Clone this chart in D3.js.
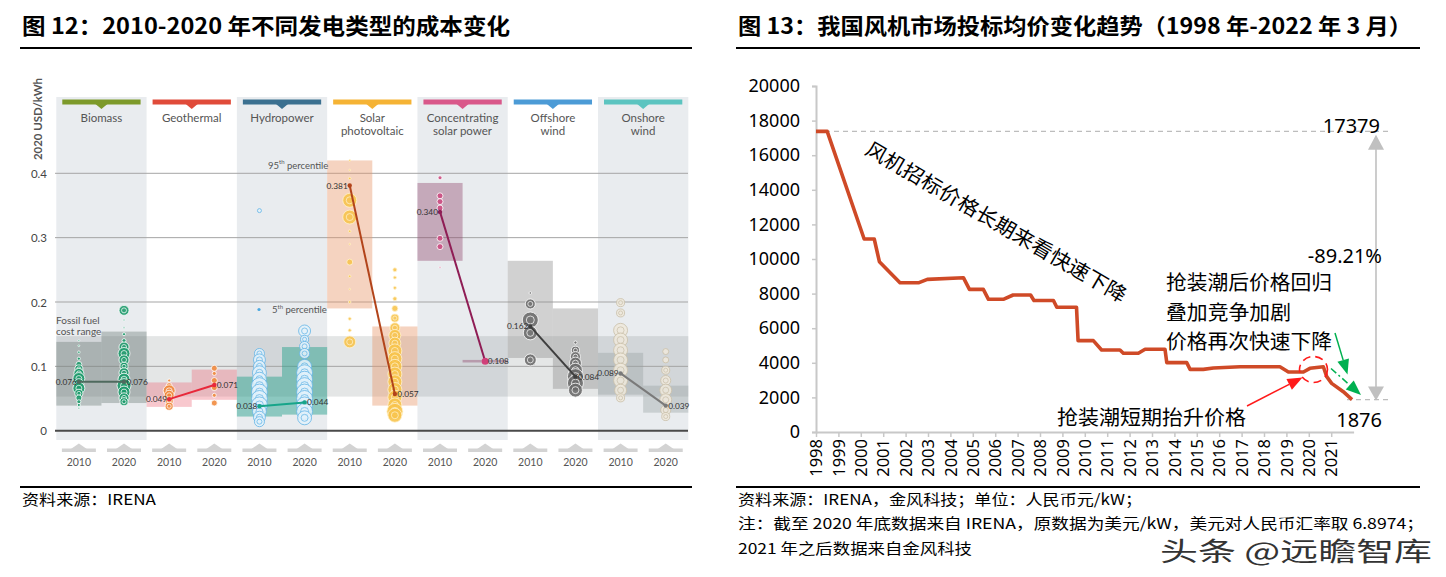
<!DOCTYPE html>
<html><head><meta charset="utf-8">
<script src="https://cdn.jsdelivr.net/npm/d3@7"></script>
<style>
html,body{margin:0;padding:0;background:#fff;}
svg{display:block;}
</style></head><body>
<svg id="c" width="1446" height="577"></svg>
<script>
// ================= Figure 12 data =================
const techs = ["Biomass","Geothermal","Hydropower","Solar photovoltaic","Concentrating solar power","Offshore wind","Onshore wind"];
const techLabels = [["Biomass"],["Geothermal"],["Hydropower"],["Solar","photovoltaic"],["Concentrating","solar power"],["Offshore","wind"],["Onshore","wind"]];
const years12 = ["2010","2020"];
const lcoe2010 = [0.076,0.049,0.038,0.381,0.340,0.162,0.089];
const lcoe2020 = [0.076,0.071,0.044,0.057,0.108,0.084,0.039];
const p5_2010  = [0.039,0.037,0.022,0.190,0.264,0.113,0.056];
const p95_2010 = [0.138,0.075,0.084,0.420,0.385,0.264,0.121];
const p5_2020  = [0.043,0.048,0.025,0.039,0.106,0.065,0.028];
const p95_2020 = [0.154,0.095,0.130,0.162,0.110,0.190,0.070];
const fossilRange = [0.053,0.147];
const yTicks12 = [0,0.1,0.2,0.3,0.4];
// project bubbles: [LCOE, capacity]
const dots2010 = [
  [[0.140,1],[0.132,1],[0.122,2],[0.112,3],[0.103,11],[0.096,20],[0.089,31],[0.081,44],[0.073,31],[0.066,44],[0.058,20],[0.051,11],[0.045,5],[0.040,3],[0.035,1]],
  [[0.078,3],[0.070,11],[0.062,44],[0.055,31],[0.046,20],[0.038,20]],
  [[0.342,5],[0.120,31],[0.110,44],[0.100,44],[0.090,60],[0.080,60],[0.070,79],[0.060,79],[0.050,79],[0.040,79],[0.030,60],[0.021,44],[0.014,31]],
  [[0.420,1],[0.405,1],[0.392,2],[0.358,60],[0.332,60],[0.310,2],[0.290,1],[0.262,11],[0.240,2],[0.220,1],[0.200,2],[0.174,3],[0.156,3],[0.138,44]],
  [[0.393,5],[0.365,11],[0.356,11],[0.346,11],[0.299,11],[0.286,11],[0.254,1]],
  [[0.214,2],[0.197,31],[0.172,79],[0.152,60],[0.110,44]],
  [[0.199,20],[0.183,20],[0.156,60],[0.141,60],[0.125,60],[0.110,60],[0.094,60],[0.078,60],[0.063,44],[0.051,20]]
];
const dots2020 = [
  [[0.187,31],[0.172,1],[0.160,1],[0.150,3],[0.140,5],[0.130,31],[0.120,44],[0.110,31],[0.100,20],[0.090,31],[0.080,44],[0.070,60],[0.060,44],[0.051,31],[0.045,20]],
  [[0.097,11],[0.089,5],[0.078,11],[0.067,11],[0.055,5],[0.043,11]],
  [[0.155,44],[0.142,20],[0.131,31],[0.120,31],[0.100,60],[0.090,79],[0.080,79],[0.070,79],[0.060,79],[0.050,79],[0.040,79],[0.030,79],[0.020,60]],
  [[0.250,5],[0.238,3],[0.222,3],[0.205,5],[0.190,11],[0.175,20],[0.160,31],[0.148,44],[0.136,44],[0.124,60],[0.112,60],[0.100,60],[0.088,60],[0.076,60],[0.064,60],[0.052,60],[0.040,60],[0.030,79],[0.024,60]],
  [[0.108,11]],
  [[0.137,3],[0.125,20],[0.115,31],[0.105,44],[0.094,60],[0.084,79],[0.074,79],[0.063,60]],
  [[0.123,11],[0.110,11],[0.094,20],[0.078,31],[0.063,44],[0.048,44],[0.032,31],[0.022,20]]
];

// ================= Figure 13 data =================
const priceYears = [1998.0,1998.5,2000.15,2000.6,2000.83,2001.75,2002.6,2002.97,2004.58,2004.85,2005.47,2005.7,2006.36,2006.8,2007.58,2007.73,2008.6,2008.75,2009.63,2009.7,2010.38,2010.75,2011.57,2011.72,2012.39,2012.69,2013.58,2013.66,2014.55,2014.7,2015.29,2015.74,2016.93,2018.71,2019.09,2019.76,2020.05,2020.65,2020.8,2021.02,2021.54,2021.93];
const priceValues = [17379,17379,11156,11156,9845,8630,8630,8824,8920,8247,8247,7670,7670,7920,7920,7600,7600,7210,7210,5280,5280,4740,4740,4550,4550,4780,4780,4010,4010,3620,3620,3700,3770,3770,3470,3470,3680,3770,3200,2810,2330,1876];
const yearTicks13 = d3.range(1998, 2022);
const yTicks13 = [0,2000,4000,6000,8000,10000,12000,14000,16000,18000,20000];
const priceStart = 17379, priceEnd = 1876, priceChange = "-89.21%";

// ================= styles =================
const headerColors = ["#7d9a2a","#e04b3a","#3b7090","#f5b335","#d9588a","#4c9bd6","#5cc4c0"];
const boxColors = ["rgba(105,120,115,0.38)","rgba(236,110,125,0.38)","rgba(40,160,140,0.48)","rgba(232,150,105,0.42)","rgba(140,60,100,0.38)","rgba(145,145,145,0.42)","rgba(150,160,160,0.38)"];
const dotFill = ["#1a9a6a","#f0883a","#e2f1fb","#f7c34a","#cc4a80","#6a6a6a","#eee8dc"];
const dotStroke = ["#ffffff","#ffffff","#62b4e6","#fff3d0","#ffffff","#ffffff","#c9bfa8"];
const lineColors = ["#4f6a5e","#e8283a","#17a58a","#b2441a","#8f1d55","#3f3f3f","#7a7a7a"];

const svg = d3.select("#c");
const CJK = "'Noto Sans CJK SC','Noto Sans',sans-serif";
const LAT = "Lato,'Open Sans',sans-serif";

// ---------- titles & footers ----------
function title(x, txt, len){
  svg.append("text").attr("x",x).attr("y",34).attr("font-family",CJK).attr("font-weight",700)
    .attr("font-size",22).attr("fill","#000").attr("textLength",len).attr("lengthAdjust","spacingAndGlyphs").text(txt);
}
title(22,"图 12：2010-2020 年不同发电类型的成本变化",488);
title(738,"图 13：我国风机市场投标均价变化趋势（1998 年-2022 年 3 月）",674);
svg.append("line").attr("x1",20).attr("x2",692).attr("y1",48).attr("y2",48).attr("stroke","#000").attr("stroke-width",2);
svg.append("line").attr("x1",736).attr("x2",1420).attr("y1",48).attr("y2",48).attr("stroke","#000").attr("stroke-width",2);
svg.append("line").attr("x1",20).attr("x2",692).attr("y1",487).attr("y2",487).attr("stroke","#000").attr("stroke-width",2);
svg.append("line").attr("x1",736).attr("x2",1420).attr("y1",487).attr("y2",487).attr("stroke","#000").attr("stroke-width",2);
function foot(x,y,txt,len){
  svg.append("text").attr("x",x).attr("y",y).attr("font-family",CJK).attr("font-size",15).attr("fill","#000")
    .attr("dominant-baseline","central").attr("textLength",len).attr("lengthAdjust","spacingAndGlyphs").text(txt);
}
foot(22,498,"资料来源：IRENA",134);
foot(738,498,"资料来源：IRENA，金风科技；单位：人民币元/kW；",404);
foot(738,522,"注：截至 2020 年底数据来自 IRENA，原数据为美元/kW，美元对人民币汇率取 6.8974；",686);
foot(738,547,"2021 年之后数据来自金风科技",234);

// ================= Figure 12 chart =================
const g1 = svg.append("g");
const xB = d3.scaleBand().domain(techs).range([56.3,688.3]);
const bw = xB.bandwidth();
const yL = d3.scaleLinear().domain([0,0.4]).range([430.7,173.3]);
const r = d3.scaleSqrt().domain([0,100]).range([0,9]);
const subX = (i,yr) => xB(techs[i]) + (yr+0.5)*bw/2;

techs.forEach((t,i)=>{
  if(i%2===0) g1.append("rect").attr("x",xB(t)).attr("y",97).attr("width",bw).attr("height",343).attr("fill","#e9ecef");
});
g1.append("rect").attr("x",56.3).attr("width",632).attr("y",yL(fossilRange[1])).attr("height",yL(fossilRange[0])-yL(fossilRange[1]))
  .attr("fill","rgba(120,130,130,0.2)");
yTicks12.forEach(v=>{
  g1.append("line").attr("x1",55).attr("x2",688).attr("y1",yL(v)).attr("y2",yL(v))
    .attr("stroke",v===0?"#4a4a4a":"#a5a5a5").attr("stroke-width",v===0?2:1);
  g1.append("text").attr("x",47).attr("y",yL(v)).attr("text-anchor","end").attr("dominant-baseline","central")
    .attr("font-family",LAT).attr("font-size",11.5).attr("fill","#444").text(v===0?"0":d3.format(".1f")(v));
});
g1.append("text").attr("transform","translate(41.5,119) rotate(-90)").attr("text-anchor","middle")
  .attr("font-family",LAT).attr("font-weight",700).attr("font-size",11).attr("fill","#555")
  .attr("textLength",82).attr("lengthAdjust","spacingAndGlyphs").text("2020 USD/kWh");
techs.forEach((t,i)=>{
  const x0 = xB(t), cx = x0+bw/2;
  g1.append("rect").attr("x",x0+6).attr("y",99.5).attr("width",bw-12).attr("height",5).attr("fill",headerColors[i]);
  g1.append("path").attr("d",`M${cx-6},104 L${cx+6},104 L${cx},109 Z`).attr("fill",headerColors[i]);
  techLabels[i].forEach((ln,k)=>{
    g1.append("text").attr("x",cx).attr("y",117+k*13.5).attr("text-anchor","middle").attr("dominant-baseline","central")
      .attr("font-family",LAT).attr("font-size",11.5).attr("fill","#555").text(ln);
  });
});
g1.append("text").attr("x",56).attr("y",320).attr("dominant-baseline","central").attr("font-family",LAT).attr("font-size",10).attr("fill","#555").text("Fossil fuel");
g1.append("text").attr("x",56).attr("y",331).attr("dominant-baseline","central").attr("font-family",LAT).attr("font-size",10).attr("fill","#555").text("cost range");
techs.forEach((t,i)=>{
  [[p5_2010,p95_2010],[p5_2020,p95_2020]].forEach((pp,yr)=>{
    const lo=pp[0][i], hi=pp[1][i];
    const x0 = xB(t)+yr*bw/2;
    g1.append("rect").attr("x",x0).attr("width",bw/2).attr("y",yL(hi)).attr("height",Math.max(2,yL(lo)-yL(hi))).attr("fill",boxColors[i]);
  });
});
g1.append("text").attr("x",268).attr("y",165).attr("dominant-baseline","central").attr("font-family",LAT).attr("font-size",9.5).attr("fill","#555")
  .html('95<tspan baseline-shift="super" font-size="6">th</tspan> percentile');
g1.append("text").attr("x",272).attr("y",309.5).attr("dominant-baseline","central").attr("font-family",LAT).attr("font-size",9.5).attr("fill","#555")
  .html('5<tspan baseline-shift="super" font-size="6">th</tspan> percentile');
g1.append("circle").attr("cx",259).attr("cy",309.5).attr("r",1.6).attr("fill","#4aa8e0");
techs.forEach((t,i)=>{
  [dots2010,dots2020].forEach((ds,yr)=>{
    const cx = subX(i,yr);
    ds[i].forEach(([v,c])=>{
      const rr = r(c);
      g1.append("circle").attr("cx",cx).attr("cy",yL(v)).attr("r",rr).attr("fill",dotFill[i]).attr("fill-opacity",0.88)
        .attr("stroke",dotStroke[i]).attr("stroke-width",0.8);
      if(rr>=4) g1.append("circle").attr("cx",cx).attr("cy",yL(v)).attr("r",rr*0.5).attr("fill","none")
        .attr("stroke",dotStroke[i]).attr("stroke-width",0.8).attr("stroke-opacity",0.9);
    });
  });
});
techs.forEach((t,i)=>{
  const x1=subX(i,0), x2=subX(i,1);
  g1.append("line").attr("x1",x1).attr("x2",x2).attr("y1",yL(lcoe2010[i])).attr("y2",yL(lcoe2020[i]))
    .attr("stroke",lineColors[i]).attr("stroke-width",2);
  g1.append("circle").attr("cx",x1).attr("cy",yL(lcoe2010[i])).attr("r",2.2).attr("fill",lineColors[i]);
  g1.append("circle").attr("cx",x2).attr("cy",yL(lcoe2020[i])).attr("r",i===4?3.5:2.2).attr("fill",i===4?"#d0407a":lineColors[i]);
  g1.append("text").attr("x",x1-2).attr("y",yL(lcoe2010[i])).attr("text-anchor","end").attr("dominant-baseline","central")
    .attr("font-family",LAT).attr("font-size",8.3).attr("fill","#333").text(d3.format(".3f")(lcoe2010[i]));
  g1.append("text").attr("x",x2+2.5).attr("y",yL(lcoe2020[i])).attr("text-anchor","start").attr("dominant-baseline","central")
    .attr("font-family",LAT).attr("font-size",8.3).attr("fill","#333").text(d3.format(".3f")(lcoe2020[i]));
});
techs.forEach((t,i)=>{
  years12.forEach((yrL,yr)=>{
    const cx = subX(i,yr);
    g1.append("rect").attr("x",cx-17).attr("y",448.5).attr("width",34).attr("height",3.5).attr("fill","#d3d3d3");
    g1.append("path").attr("d",`M${cx-8},449 L${cx},443.5 L${cx+8},449 Z`).attr("fill","#d3d3d3");
    g1.append("text").attr("x",cx).attr("y",462).attr("text-anchor","middle").attr("dominant-baseline","central")
      .attr("font-family",LAT).attr("font-size",10.5).attr("fill","#555").text(yrL);
  });
});

// ================= Figure 13 chart =================
const g2 = svg.append("g");
const x2 = d3.scaleLinear().domain([1998,2022]).range([816,1353.6]);
const y2 = d3.scaleLinear().domain([0,20000]).range([432,86]);
const NUM = "'Noto Sans','Open Sans',sans-serif";

const yAx = g2.append("g").attr("transform","translate(816,0)")
  .call(d3.axisLeft(y2).tickValues(yTicks13).tickSize(4).tickPadding(12).tickFormat(d3.format("d")));
yAx.select(".domain").attr("stroke","#c8c8c8").attr("stroke-width",2);
yAx.selectAll(".tick line").attr("stroke","#c8c8c8").attr("stroke-width",1.5);
yAx.selectAll("text").attr("font-family",NUM).attr("font-size",18).attr("fill","#000");

const xAx = g2.append("g").attr("transform","translate(0,432)")
  .call(d3.axisBottom(x2).tickValues(yearTicks13).tickSize(5).tickFormat(d3.format("d")).tickSizeOuter(0));
xAx.select(".domain").attr("stroke","#c8c8c8").attr("stroke-width",2);
xAx.selectAll(".tick line").attr("stroke","#c8c8c8").attr("stroke-width",1.5);
xAx.selectAll("text").attr("font-family",NUM).attr("font-size",16.5).attr("fill","#000")
  .attr("transform","rotate(-90)").attr("text-anchor","end").attr("x",-7).attr("y",0).attr("dy","0.35em");

g2.append("line").attr("x1",816).attr("x2",1388).attr("y1",y2(priceStart)).attr("y2",y2(priceStart))
  .attr("stroke","#bdbdbd").attr("stroke-width",1.3).attr("stroke-dasharray","5,4");
g2.append("line").attr("x1",1347).attr("x2",1388).attr("y1",y2(priceEnd)).attr("y2",y2(priceEnd))
  .attr("stroke","#bdbdbd").attr("stroke-width",1.3).attr("stroke-dasharray","5,4");

g2.append("path").datum(priceYears.map((d,i)=>[d,priceValues[i]]))
  .attr("d",d3.line().x(d=>x2(d[0])).y(d=>y2(d[1])))
  .attr("fill","none").attr("stroke","#cf4a27").attr("stroke-width",3.6).attr("stroke-linejoin","round");

const ax = 1376, yt = y2(priceStart)+3.5, yb = y2(priceEnd)+1;
g2.append("line").attr("x1",ax).attr("x2",ax).attr("y1",yt+12).attr("y2",yb-12).attr("stroke","#c0c0c0").attr("stroke-width",1.6);
g2.append("path").attr("d",`M${ax},${yt} L${ax-8},${yt+15} L${ax+8},${yt+15} Z`).attr("fill","#c0c0c0");
g2.append("path").attr("d",`M${ax},${yb} L${ax-8},${yb-14} L${ax+8},${yb-14} Z`).attr("fill","#c0c0c0");

function t2(x,y,txt,opts={}){
  const t = g2.append("text").attr("x",x).attr("y",y).attr("dominant-baseline","central")
    .attr("font-family",opts.f||CJK).attr("font-size",opts.s||20).attr("fill","#000")
    .attr("text-anchor",opts.a||"start").text(txt);
  if(opts.len) t.attr("textLength",opts.len).attr("lengthAdjust","spacingAndGlyphs");
  return t;
}
t2(1380,125,String(priceStart),{f:NUM,s:20,a:"end"});
t2(1382,255,priceChange,{f:NUM,s:20,a:"end"});
t2(1382,419,String(priceEnd),{f:NUM,s:20,a:"end"});
t2(1166,281.5,"抢装潮后价格回归",{len:166});
t2(1166,311,"叠加竞争加剧",{len:125});
t2(1166,340.5,"价格再次快速下降",{len:166});
t2(1057,416.5,"抢装潮短期抬升价格",{len:189});
g2.append("text").attr("transform","translate(868,146) rotate(30.2)").attr("dominant-baseline","central")
  .attr("font-family",CJK).attr("font-size",20).attr("fill","#000").attr("textLength",298).attr("lengthAdjust","spacingAndGlyphs")
  .text("风机招标价格长期来看快速下降");

g2.append("ellipse").attr("cx",1313.5).attr("cy",369.5).attr("rx",14).attr("ry",13)
  .attr("fill","none").attr("stroke","#ff1a1a").attr("stroke-width",1.6).attr("stroke-dasharray","8,5");

function arrow(xa,ya,xb,yb,color,dash,hl,hw){
  const ang = Math.atan2(yb-ya,xb-xa);
  const bx = xb - hl*Math.cos(ang), by = yb - hl*Math.sin(ang);
  g2.append("line").attr("x1",xa).attr("y1",ya).attr("x2",bx).attr("y2",by).attr("stroke",color).attr("stroke-width",1.5)
    .attr("stroke-dasharray",dash||null);
  const px = -Math.sin(ang)*hw/2, py = Math.cos(ang)*hw/2;
  g2.append("path").attr("d",`M${xb},${yb} L${bx+px},${by+py} L${bx-px},${by-py} Z`).attr("fill",color);
}
arrow(1247,406,1302.5,377.5,"#ff1a1a",null,15,12);
arrow(1335,333,1347.5,374.5,"#00b050",null,15,12);
arrow(1331,368.5,1361,395,"#00b050","7,3,2,3",15,12);

// watermark (kept just below the second note line)
svg.append("text").attr("x",1160).attr("y",549).attr("dominant-baseline","central")
  .attr("font-family",CJK).attr("font-size",26).attr("fill","#333").attr("stroke","#fff").attr("stroke-width",4)
  .attr("paint-order","stroke").attr("textLength",272).attr("lengthAdjust","spacingAndGlyphs").text("头条 @远瞻智库");
</script>
</body></html>
